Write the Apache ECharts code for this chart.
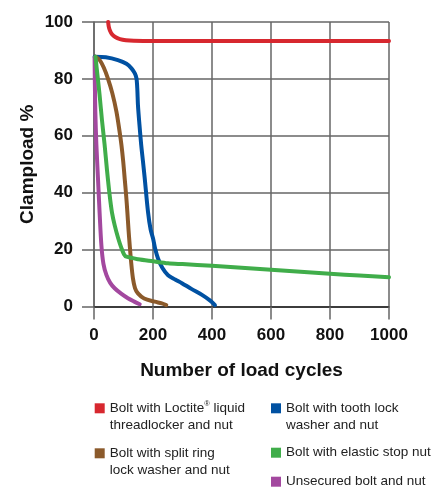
<!DOCTYPE html>
<html><head><meta charset="utf-8">
<script src="https://cdn.jsdelivr.net/npm/echarts@6/dist/echarts.min.js"></script>
<style>html,body{margin:0;padding:0;background:#fff}#c{width:440px;height:487px}</style>
</head><body><div id="c"></div>
<script>
const FONT = '"Liberation Sans",Arial,Helvetica,sans-serif';
const xTicks = [0, 200, 400, 600, 800, 1000];
const yTicks = [0, 20, 40, 60, 80, 100];
const names = [
  'Bolt with Loctite® liquid threadlocker and nut',
  'Bolt with tooth lock washer and nut',
  'Bolt with split ring lock washer and nut',
  'Bolt with elastic stop nut',
  'Unsecured bolt and nut'
];
const colors = ['#d7282f', '#0051a2', '#8b5a2b', '#40ad4a', '#a3489f'];
const loctite = [[48,100],[50,98.4],[54,97],[61,95.7],[72,94.7],[88,94],[108,93.6],[135,93.4],[200,93.3],[1000,93.3]];
const toothLock = [[2,87.8],[40,87.6],[81,86.6],[110,85.3],[127,83.7],[138,82],[144,80.2],[147,76],[149,70.8],[154,64],[160,56.8],[166,51],[172,45],[183,33.3],[192,27],[200,24],[208,20],[217,16.9],[232,13.5],[251,11],[275,9.5],[298,8.2],[330,6.2],[366,4.1],[395,2],[410,0.5]];
const splitRing = [[5,87.8],[20,86.5],[33,84],[47,80.2],[62,75],[76,68.5],[86,62],[93,56.8],[99,51],[104,45],[109,39],[113,33.3],[117,27],[121,21.6],[126,15.5],[132,9.9],[139,6.5],[149,4.6],[170,2.8],[206,1.7],[230,1.1],[245,0.5]];
const elasticStop = [[5,87.8],[12,81],[19,74.3],[27,65.5],[36,56.8],[44,48],[53,39.2],[61,33],[70,28.6],[82,24],[93,20.5],[102,18.3],[110,17.5],[150,16.6],[200,15.9],[251,15.2],[300,14.9],[400,14.3],[500,13.6],[600,12.9],[700,12.2],[800,11.5],[900,10.9],[1000,10.3]];
const unsecured = [[2,87.5],[3,78],[4.5,68.5],[8,57],[13.5,45],[19,33],[25,21.6],[32,15],[42,11.1],[55,8.3],[70,6.4],[92,4.5],[115,2.9],[135,1.8],[155,0.8]];
const seriesData = [loctite, toothLock, splitRing, elasticStop, unsecured];
const drawOrder = [0, 1, 2, 4, 3];

const legendPos = [
  {left: 94.7, top: 382.8},
  {left: 271, top: 382.8},
  {left: 94.7, top: 427.8},
  {left: 271, top: 444.2},
  {left: 271, top: 473.2}
];
const legendText = [
  '\nBolt with Loctite{sup|®} liquid\nthreadlocker and nut',
  '\nBolt with tooth lock\nwasher and nut',
  '\nBolt with split ring\nlock washer and nut',
  'Bolt with elastic stop nut',
  'Unsecured bolt and nut'
];

const chart = echarts.init(document.getElementById('c'), null, {renderer: 'canvas'});
const gridColor = '#666';
chart.setOption({
  animation: false,
  textStyle: {fontFamily: FONT},
  grid: {left: 94, right: 51, top: 22, bottom: 180.5, containLabel: false},
  xAxis: {
    type: 'value', min: 0, max: 1000, interval: 200,
    name: 'Number of load cycles', nameLocation: 'middle', nameGap: 55,
    nameMoveOverlap: false,
    nameTextStyle: {fontFamily: FONT, fontSize: 19, fontWeight: 'bold', color: '#111'},
    axisLine: {show: true, onZero: false, lineStyle: {color: '#222', width: 1.5}},
    axisTick: {show: true, inside: false, length: 13, lineStyle: {color: gridColor, width: 1.5}},
    splitLine: {show: true, lineStyle: {color: gridColor, width: 1.5}},
    axisLabel: {margin: 20, fontFamily: FONT, fontSize: 17, fontWeight: 'bold', color: '#111',
      formatter: v => xTicks.includes(v) ? String(v) : ''}
  },
  yAxis: {
    type: 'value', min: 0, max: 100, interval: 20,
    name: 'Clampload %', nameLocation: 'middle', nameGap: 57, nameRotate: 90,
    nameMoveOverlap: false,
    nameTextStyle: {fontFamily: FONT, fontSize: 19, fontWeight: 'bold', color: '#111'},
    axisLine: {show: true, lineStyle: {color: gridColor, width: 1.5}},
    axisTick: {show: true, inside: false, length: 12, lineStyle: {color: gridColor, width: 1.5}},
    splitLine: {show: true, lineStyle: {color: gridColor, width: 1.5}},
    axisLabel: {margin: 21, fontFamily: FONT, fontSize: 17, fontWeight: 'bold', color: '#111',
      formatter: v => yTicks.includes(v) ? String(v) : ''}
  },
  legend: names.map((n, i) => ({
    data: [n], left: legendPos[i].left, top: legendPos[i].top,
    orient: 'vertical', icon: 'rect', itemWidth: 10, itemHeight: 10, itemGap: 0,
    padding: 0, selectedMode: false,
    formatter: () => legendText[i],
    textStyle: {fontFamily: FONT, fontSize: 13.5, lineHeight: 17, color: '#222',
      rich: {sup: {fontFamily: FONT, fontSize: 7.5, verticalAlign: 'top', lineHeight: 15, color: '#222'}}}
  })),
  series: drawOrder.map(i => ({
    name: names[i], type: 'line', data: seriesData[i],
    smooth: 0.3, showSymbol: false, symbol: 'none', clip: true,
    color: colors[i],
    lineStyle: {color: colors[i], width: 4, cap: 'round', join: 'round'},
    z: 3
  }))
});
</script></body></html>
